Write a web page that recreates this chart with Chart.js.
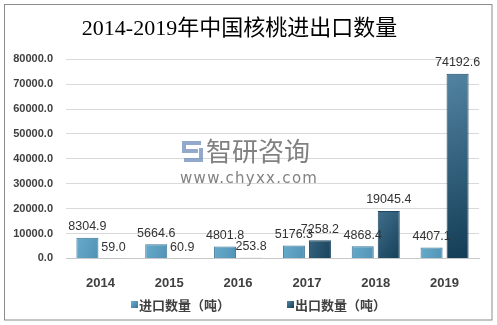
<!DOCTYPE html>
<html>
<head>
<meta charset="utf-8">
<script src="https://cdn.jsdelivr.net/npm/chart.js@4.4.1/dist/chart.umd.min.js"></script>
<style>
  html, body { margin: 0; padding: 0; background: #fff; }
  #wrap { position: relative; width: 497px; height: 325px; }
  #legend {
    position: absolute; left: 131px; top: 295px;
    display: flex; gap: 57px;
    font: bold 13px "Noto Sans CJK SC", sans-serif; color: #404040;
  }
  #legend span.item { display: flex; align-items: center; white-space: nowrap; }
  #legend i { display: inline-block; width: 7px; height: 7px; margin-right: 1px; }
</style>
</head>
<body>
<div id="wrap">
  <canvas id="chart" width="497" height="325"></canvas>
  <div id="legend"></div>
</div>
<script>
// ==================== DATA ====================
const years = ['2014', '2015', '2016', '2017', '2018', '2019'];
const importTons = [8304.9, 5664.6, 4801.8, 5176.3, 4868.4, 4407.1];
const exportTons = [59.0, 60.9, 253.8, 7258.2, 19045.4, 74192.6];
const seriesNames = ['进口数量（吨）', '出口数量（吨）'];
const chartTitle = '2014-2019年中国核桃进出口数量';

// light / dark ends of each series gradient
const importColors = ['#6bb0d0', '#37769b'];
const exportColors = ['#5587a6', '#133c55'];

// diagonal gradient per bar, from the scales
function barFill(colors) {
    return function (ctx) {
        const chart = ctx.chart;
        const xs = chart.scales.x, ys = chart.scales.y;
        if (!chart.chartArea || !xs || !ys || ctx.type !== 'data') return colors[1];
        const cx = xs.getPixelForValue(ctx.dataIndex);
        const top = ys.getPixelForValue(ctx.raw);
        const base = ys.getPixelForValue(0);
        const g = chart.ctx.createLinearGradient(cx - 30, top, cx + 30, base);
        g.addColorStop(0, colors[0]);
        g.addColorStop(1, colors[1]);
        return g;
    };
}

// white page + grey frame
const framePlugin = {
    id: 'frame',
    beforeDraw(chart) {
        const c = chart.ctx;
        c.save();
        c.fillStyle = '#fff';
        c.fillRect(0, 0, chart.width, chart.height);
        c.strokeStyle = '#8c8c8c';
        c.lineWidth = 1;
        c.strokeRect(4.5, 4.5, 487.5, 315.5);
        c.restore();
    }
};

// faint site watermark in the middle
const watermarkPlugin = {
    id: 'watermark',
    beforeDatasetsDraw(chart) {
        const c = chart.ctx;
        c.save();
        // little logo
        c.strokeStyle = 'rgba(110,140,185,0.75)';
        c.lineWidth = 4;
        c.beginPath();
        c.moveTo(201, 143); c.lineTo(184, 143); c.lineTo(184, 151); c.lineTo(198, 151);
        c.moveTo(184, 160); c.lineTo(201, 160); c.lineTo(201, 148);
        c.stroke();
        c.fillStyle = 'rgba(115,115,115,0.9)';
        c.textBaseline = 'middle';
        c.textAlign = 'left';
        c.font = '26px "Noto Sans CJK SC"';
        c.fillText('智研咨询', 206, 151);
        c.font = '15px "DejaVu Sans"';
        c.letterSpacing = '1.3px';
        c.fillText('www.chyxx.com', 180, 179);
        c.restore();
    }
};

// value labels above the bars
const valueLabelPlugin = {
    id: 'valueLabels',
    afterDatasetsDraw(chart) {
        const c = chart.ctx;
        c.save();
        c.font = '12.5px "Liberation Sans"';
        c.fillStyle = '#333';
        c.textAlign = 'center';
        c.textBaseline = 'middle';
        chart.data.datasets.forEach((ds, di) => {
            chart.getDatasetMeta(di).data.forEach((bar, i) => {
                c.fillText(ds.data[i].toFixed(1), bar.x, bar.y - 11);
            });
        });
        c.restore();
    }
};

new Chart(document.getElementById('chart').getContext('2d'), {
    type: 'bar',
    data: {
        labels: years,
        datasets: [{
            label: seriesNames[0],
            data: importTons,
            backgroundColor: barFill(importColors),
            borderColor: '#3d7394',
            borderWidth: 1,
            categoryPercentage: 0.756,
            barPercentage: 0.846
        }, {
            label: seriesNames[1],
            data: exportTons,
            backgroundColor: barFill(exportColors),
            borderColor: '#1c4660',
            borderWidth: 1,
            categoryPercentage: 0.756,
            barPercentage: 0.846
        }]
    },
    options: {
        responsive: false,
        animation: false,
        layout: { padding: { left: 0, right: 18, top: 0, bottom: 25 } },
        plugins: {
            legend: { display: false },
            tooltip: { enabled: false },
            title: {
                display: true,
                text: chartTitle,
                color: '#000',
                font: { family: '"Liberation Serif", "Noto Sans CJK SC"', size: 22, weight: 'normal', lineHeight: 1.15 },
                padding: { top: 17, bottom: 17 }
            }
        },
        scales: {
            x: {
                grid: { display: false },
                border: { color: '#c8c8c8' },
                ticks: { color: '#404040', padding: 9, font: { family: 'Liberation Sans', size: 13, weight: 'bold' } }
            },
            y: {
                min: 0, max: 80000,
                afterFit(scale) { scale.width = 66; },
                grid: { color: '#d9d9d9', drawTicks: false },
                border: { display: false },
                ticks: {
                    stepSize: 10000,
                    padding: 13,
                    color: '#404040',
                    font: { family: 'Liberation Sans', size: 11, weight: 'bold' },
                    callback: v => v.toFixed(1)
                }
            }
        }
    },
    plugins: [framePlugin, watermarkPlugin, valueLabelPlugin]
});

// legend below the plot
const legendEl = document.getElementById('legend');
[importColors, exportColors].forEach((cols, i) => {
    const item = document.createElement('span');
    item.className = 'item';
    item.innerHTML = '<i style="background:linear-gradient(135deg,' + cols[0] + ',' + cols[1] + ')"></i>' + seriesNames[i];
    legendEl.appendChild(item);
});
</script>
</body>
</html>
